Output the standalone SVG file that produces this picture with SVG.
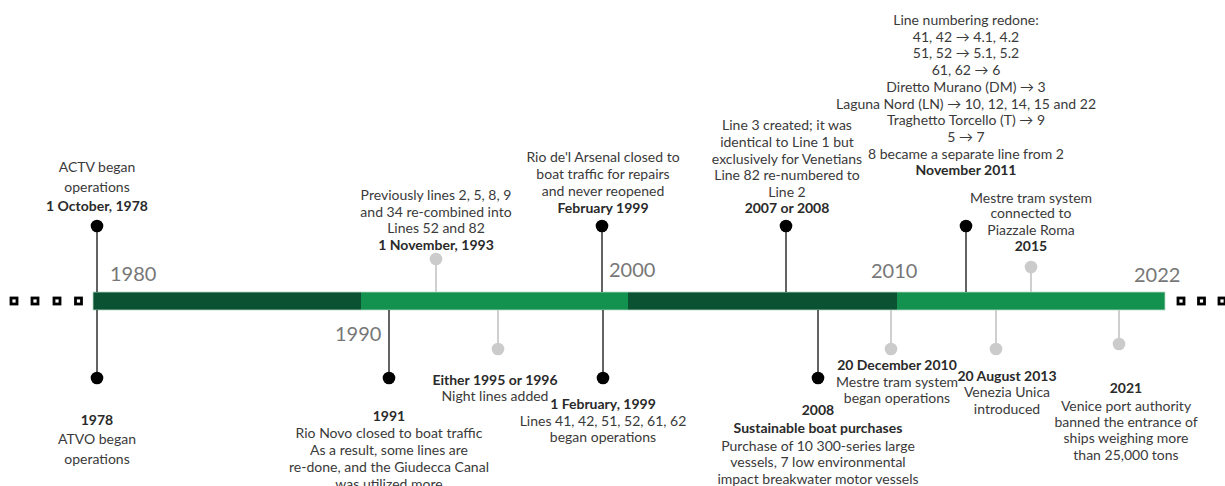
<svg xmlns="http://www.w3.org/2000/svg" width="1225" height="486" viewBox="0 0 1225 486">
<style>
text{font-family:Lato,"Open Sans","Liberation Sans",sans-serif;font-size:14px;fill:#3a3a3a;text-anchor:middle}
.b{font-weight:bold;fill:#2a2a2a}
.yr{font-size:20px;fill:#777;text-anchor:start}
.ln{stroke:#3c3c3c;stroke-width:1.6}
.lg{stroke:#cfcfcf;stroke-width:2}
.dot{fill:#000}
.gdot{fill:#cbcbcb}
.sq{fill:#fff;stroke:#000;stroke-width:2.8}
.dk{fill:#0b5232}
.lt{fill:#13924f}
</style>
<rect width="1225" height="486" fill="#fff"/>
<g id="axis">
<rect class="dk" x="93" y="292" width="268" height="18"/>
<rect class="lt" x="361" y="292" width="267" height="18"/>
<rect class="dk" x="628" y="292" width="269" height="18"/>
<rect class="lt" x="897" y="292" width="268" height="18"/>
<rect x="93" y="292" width="1072" height="18" fill="none" stroke="#b9d9c6" stroke-width="0.8"/>
<rect class="sq" x="11" y="298" width="6" height="6"/>
<rect class="sq" x="32" y="298" width="6" height="6"/>
<rect class="sq" x="54" y="298" width="6" height="6"/>
<rect class="sq" x="75.5" y="298" width="6" height="6"/>
<rect class="sq" x="1178" y="298" width="6" height="6"/>
<rect class="sq" x="1198.5" y="298" width="6" height="6"/>
<rect class="sq" x="1219" y="298" width="6" height="6"/>
<text class="yr" x="110" y="281">1980</text>
<text class="yr" x="335" y="341">1990</text>
<text class="yr" x="609" y="277">2000</text>
<text class="yr" x="871" y="278">2010</text>
<text class="yr" x="1134" y="282">2022</text>
</g>
<g id="connectors">
<line class="ln" x1="97" y1="226" x2="97" y2="292"/>
<line class="ln" x1="97" y1="310" x2="97" y2="378"/>
<line class="ln" x1="389" y1="310" x2="389" y2="378"/>
<line class="lg" x1="436" y1="259" x2="436" y2="292"/>
<line class="lg" x1="498" y1="310" x2="498" y2="349"/>
<line class="ln" x1="602" y1="226" x2="602" y2="292"/>
<line class="ln" x1="603" y1="310" x2="603" y2="378"/>
<line class="ln" x1="786" y1="226" x2="786" y2="292"/>
<line class="ln" x1="818" y1="310" x2="818" y2="378"/>
<line class="lg" x1="891" y1="310" x2="891" y2="349"/>
<line class="ln" x1="966" y1="226" x2="966" y2="292"/>
<line class="lg" x1="996" y1="310" x2="996" y2="349"/>
<line class="lg" x1="1031" y1="267" x2="1031" y2="292"/>
<line class="lg" x1="1119" y1="310" x2="1119" y2="344"/>
</g>
<g id="e-actv">
<circle class="dot" cx="97" cy="226" r="6.3"/>
<text x="97" y="172">ACTV began</text>
<text x="97" y="192">operations</text>
<text class="b" x="97" y="211">1 October, 1978</text>
</g>
<g id="e-atvo">
<circle class="dot" cx="97" cy="378" r="6.3"/>
<text class="b" x="97" y="425">1978</text>
<text x="97" y="444">ATVO began</text>
<text x="97" y="464">operations</text>
</g>
<g id="e-1991">
<circle class="dot" cx="389" cy="378" r="6.3"/>
<text class="b" x="389" y="421">1991</text>
<text x="389" y="438">Rio Novo closed to boat traffic</text>
<text x="389" y="455">As a result, some lines are</text>
<text x="389" y="472">re-done, and the Giudecca Canal</text>
<text x="389" y="489">was utilized more</text>
</g>
<g id="e-1993">
<circle class="gdot" cx="436" cy="259" r="6.3"/>
<text x="436" y="200">Previously lines 2, 5, 8, 9</text>
<text x="436" y="217">and 34 re-combined into</text>
<text x="436" y="233">Lines 52 and 82</text>
<text class="b" x="436" y="250">1 November, 1993</text>
</g>
<g id="e-1995">
<circle class="gdot" cx="498" cy="349" r="6.3"/>
<text class="b" x="495" y="385">Either 1995 or 1996</text>
<text x="495" y="401">Night lines added</text>
</g>
<g id="e-arsenal">
<circle class="dot" cx="602" cy="226" r="6.3"/>
<text x="603" y="162">Rio de'l Arsenal closed to</text>
<text x="603" y="179">boat traffic for repairs</text>
<text x="603" y="196">and never reopened</text>
<text class="b" x="603" y="213">February 1999</text>
</g>
<g id="e-feb1999">
<circle class="dot" cx="603" cy="378" r="6.3"/>
<text class="b" x="603" y="409">1 February, 1999</text>
<text x="603" y="426">Lines 41, 42, 51, 52, 61, 62</text>
<text x="603" y="442">began operations</text>
</g>
<g id="e-2007">
<circle class="dot" cx="786" cy="226" r="6.3"/>
<text x="787" y="130">Line 3 created; it was</text>
<text x="787" y="147">identical to Line 1 but</text>
<text x="787" y="164">exclusively for Venetians</text>
<text x="787" y="180">Line 82 re-numbered to</text>
<text x="787" y="197">Line 2</text>
<text class="b" x="787" y="213">2007 or 2008</text>
</g>
<g id="e-2008">
<circle class="dot" cx="818" cy="378" r="6.3"/>
<text class="b" x="818" y="415">2008</text>
<text class="b" x="818" y="433">Sustainable boat purchases</text>
<text x="818" y="451">Purchase of 10 300-series large</text>
<text x="818" y="467">vessels, 7 low environmental</text>
<text x="818" y="484">impact breakwater motor vessels</text>
</g>
<g id="e-2010">
<circle class="gdot" cx="891" cy="349" r="6.3"/>
<text class="b" x="897" y="370">20 December 2010</text>
<text x="897" y="387">Mestre tram system</text>
<text x="897" y="403">began operations</text>
</g>
<g id="e-2011">
<circle class="dot" cx="966" cy="226" r="6.3"/>
<text x="966" y="25">Line numbering redone:</text>
<text x="966" y="42">41, 42 → 4.1, 4.2</text>
<text x="966" y="58">51, 52 → 5.1, 5.2</text>
<text x="966" y="75">61, 62 → 6</text>
<text x="966" y="92">Diretto Murano (DM) → 3</text>
<text x="966" y="109">Laguna Nord (LN) → 10, 12, 14, 15 and 22</text>
<text x="966" y="125">Traghetto Torcello (T) → 9</text>
<text x="966" y="142">5 → 7</text>
<text x="966" y="159">8 became a separate line from 2</text>
<text class="b" x="966" y="175">November 2011</text>
</g>
<g id="e-2013">
<circle class="gdot" cx="996" cy="349" r="6.3"/>
<text class="b" x="1007" y="381">20 August 2013</text>
<text x="1007" y="397">Venezia Unica</text>
<text x="1007" y="414">introduced</text>
</g>
<g id="e-2015">
<circle class="gdot" cx="1031" cy="267" r="6.3"/>
<text x="1031" y="203">Mestre tram system</text>
<text x="1031" y="218">connected to</text>
<text x="1031" y="235">Piazzale Roma</text>
<text class="b" x="1031" y="251">2015</text>
</g>
<g id="e-2021">
<circle class="gdot" cx="1119" cy="344" r="6.3"/>
<text class="b" x="1126" y="393">2021</text>
<text x="1126" y="411">Venice port authority</text>
<text x="1126" y="427">banned the entrance of</text>
<text x="1126" y="443">ships weighing more</text>
<text x="1126" y="460">than 25,000 tons</text>
</g>
</svg>
